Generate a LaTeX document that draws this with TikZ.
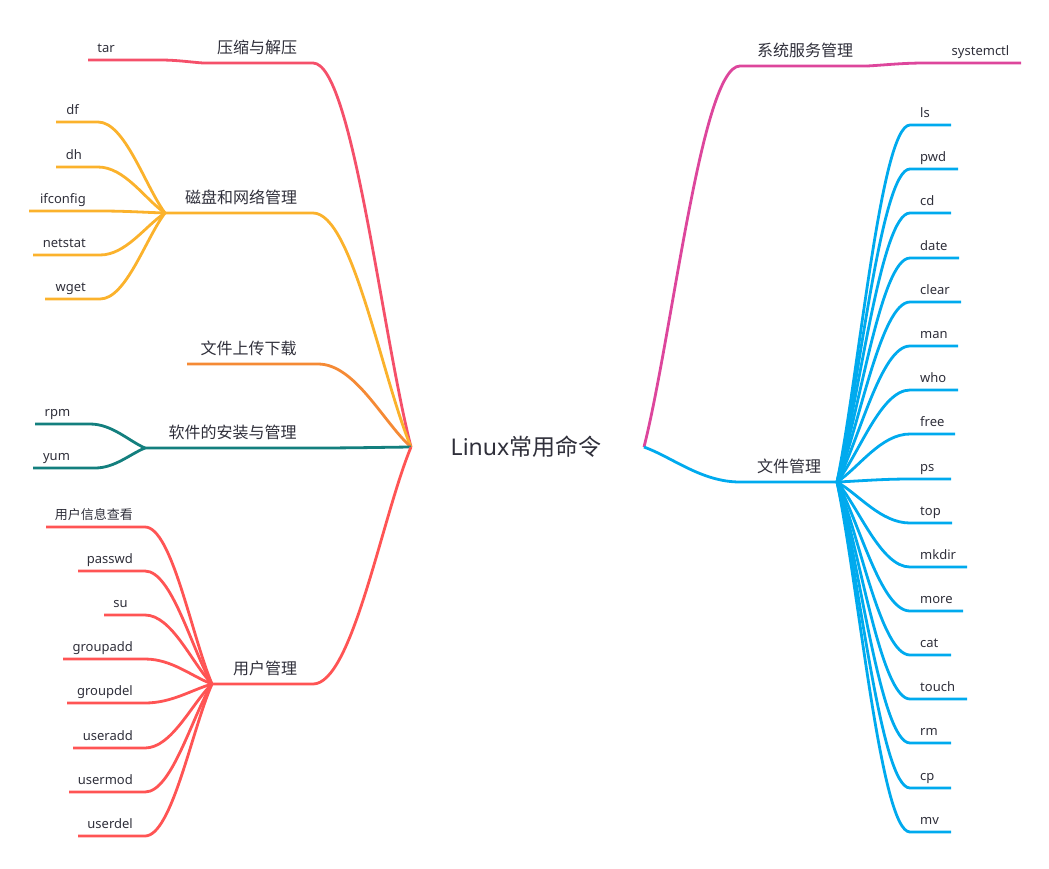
\documentclass[tikz,border=0pt]{standalone}
\usepackage{fontspec}
\setmainfont{Noto Sans}
\newfontfamily\cjk{Noto Sans CJK SC}
\usetikzlibrary{calc}
\definecolor{cRedA}{HTML}{F5506A}
\definecolor{cYel}{HTML}{FBB22C}
\definecolor{cOra}{HTML}{F58A35}
\definecolor{cTeal}{HTML}{137F7E}
\definecolor{cRedB}{HTML}{FF5454}
\definecolor{cMag}{HTML}{DD469C}
\definecolor{cBlue}{HTML}{00AAEE}
\definecolor{txt}{HTML}{2F2F3A}
% #1 style, #2 parent point, #3 near end of child, #4 far end of child
\newcommand\mmedge[4]{\draw[#1] let \p1=(#2), \p2=(#3) in (#4) -- (\p2) .. controls ({\x2-0.4*(\x2-\x1)},{\y2}) and ({\x1+0.3*(\x2-\x1)},{\y1+0.3*(\y2-\y1)}) .. (\p1);}
\tikzset{
  br/.style={line width=2.8pt, draw=#1},
  leaf/.style={font=\fontsize{13}{15}\selectfont, text=txt, inner sep=0pt, anchor=base},
  leafE/.style={leaf, anchor=base east},
  leafW/.style={leaf, anchor=base west},
  ttl/.style={font=\fontsize{16}{18}\selectfont\cjk, text=txt, inner sep=0pt, anchor=base},
  roottxt/.style={font=\fontsize{23}{26}\selectfont, text=txt, inner sep=0pt, anchor=base},
}
\begin{document}
\begin{tikzpicture}[x=1pt,y=-1pt]
\useasboundingbox (0,0) rectangle (1049,868);
% root
\coordinate (rootL) at (411,447);
\coordinate (rootR) at (644,447);
\node[roottxt] (root) at (526,455) {Linux{\cjk 常用命令}};

% ---- 压缩与解压
\coordinate (zipN) at (313,63); \coordinate (zipF) at (203,63);
\node[ttl] (zip) at (257,53) {压缩与解压};
\coordinate (tarN) at (160,60); \coordinate (tarF) at (88,60);
\node[leaf] (tar) at (106,52) {tar};
\mmedge{br=cRedA}{zipF}{tarN}{tarF}
\mmedge{br=cRedA}{rootL}{zipN}{zipF}

% ---- 磁盘和网络管理
\coordinate (diskN) at (313,213); \coordinate (diskF) at (165,213);
\node[ttl] (disk) at (241,203) {磁盘和网络管理};
\coordinate (dfN) at (98,122); \coordinate (dfF) at (56,122);
\node[leaf] (df) at (72.5,114) {df};
\coordinate (dhN) at (98,167); \coordinate (dhF) at (56,167);
\node[leaf] (dh) at (74,159) {dh};
\coordinate (ifN) at (100,211); \coordinate (ifF) at (29,211);
\node[leafE] (ifc) at (86,203) {ifconfig};
\coordinate (nsN) at (100,255); \coordinate (nsF) at (33,255);
\node[leafE] (ns) at (86,247) {netstat};
\coordinate (wgN) at (100,299); \coordinate (wgF) at (45,299);
\node[leafE] (wg) at (86,291) {wget};
\mmedge{br=cYel}{diskF}{dfN}{dfF}
\mmedge{br=cYel}{diskF}{dhN}{dhF}
\mmedge{br=cYel}{diskF}{ifN}{ifF}
\mmedge{br=cYel}{diskF}{nsN}{nsF}
\mmedge{br=cYel}{diskF}{wgN}{wgF}
\mmedge{br=cYel}{rootL}{diskN}{diskF}

% ---- 文件上传下载
\coordinate (upN) at (318,364); \coordinate (upF) at (187,364);
\node[ttl] (up) at (248.5,354) {文件上传下载};
\mmedge{br=cOra}{rootL}{upN}{upF}

% ---- 软件的安装与管理
\coordinate (swN) at (313,448); \coordinate (swF) at (145,448);
\node[ttl] (sw) at (232.5,438) {软件的安装与管理};
\coordinate (rpmN) at (90,424); \coordinate (rpmF) at (35,424);
\node[leaf] (rpm) at (57.5,416) {rpm};
\coordinate (yumN) at (95,468); \coordinate (yumF) at (33,468);
\node[leaf] (yum) at (56.5,460) {yum};
\mmedge{br=cTeal}{swF}{rpmN}{rpmF}
\mmedge{br=cTeal}{swF}{yumN}{yumF}
\mmedge{br=cTeal}{rootL}{swN}{swF}

% ---- 用户管理
\coordinate (usrN) at (313,684); \coordinate (usrF) at (212,684);
\node[ttl] (usr) at (265,674) {用户管理};
\coordinate (u1N) at (145,527); \coordinate (u1F) at (46,527);
\node[leafE, font=\fontsize{13}{15}\selectfont\cjk] (u1) at (133,519) {用户信息查看};
\coordinate (u2N) at (145,571); \coordinate (u2F) at (78,571);
\node[leafE] (u2) at (133,563) {passwd};
\coordinate (u3N) at (145,615); \coordinate (u3F) at (104,615);
\node[leaf] (u3) at (120.5,607) {su};
\coordinate (u4N) at (145,659); \coordinate (u4F) at (63,659);
\node[leafE] (u4) at (133,651) {groupadd};
\coordinate (u5N) at (145,703); \coordinate (u5F) at (67,703);
\node[leafE] (u5) at (133,695) {groupdel};
\coordinate (u6N) at (145,748); \coordinate (u6F) at (73,748);
\node[leafE] (u6) at (133,740) {useradd};
\coordinate (u7N) at (145,792); \coordinate (u7F) at (69,792);
\node[leafE] (u7) at (133,784) {usermod};
\coordinate (u8N) at (145,836); \coordinate (u8F) at (78,836);
\node[leafE] (u8) at (133,828) {userdel};
\foreach \vi in {1,...,8} {\mmedge{br=cRedB}{usrF}{u\vi N}{u\vi F}}
\mmedge{br=cRedB}{rootL}{usrN}{usrF}

% ---- 系统服务管理
\coordinate (sysN) at (740,66); \coordinate (sysF) at (867,66);
\node[ttl] (sys) at (805,56) {系统服务管理};
\coordinate (sctN) at (925,63); \coordinate (sctF) at (1021,63);
\node[leaf] (sct) at (980.5,55) {systemctl};
\mmedge{br=cMag}{sysF}{sctN}{sctF}
\mmedge{br=cMag}{rootR}{sysN}{sysF}

% ---- 文件管理
\coordinate (fmN) at (740,482); \coordinate (fmF) at (837,482);
\node[ttl] (fm) at (789,472) {文件管理};
\foreach \vt/\vy/\ve [count=\vi] in {ls/125/951, pwd/169/958, cd/213/951, date/258/959, clear/302/961, man/346/958, who/390/958, free/434/955, ps/479/951, top/523/952, mkdir/567/967, more/611/963, cat/655/951, touch/699/967, rm/743/951, cp/788/951, mv/832/951} {
  \coordinate (f\vi N) at (910,\vy);
  \coordinate (f\vi F) at (\ve,\vy);
  \node[leafW] (ft\vi) at (920,\vy-8) {\vt};
  \mmedge{br=cBlue}{fmF}{f\vi N}{f\vi F}
}
\mmedge{br=cBlue}{rootR}{fmN}{fmF}
\end{tikzpicture}
\end{document}
